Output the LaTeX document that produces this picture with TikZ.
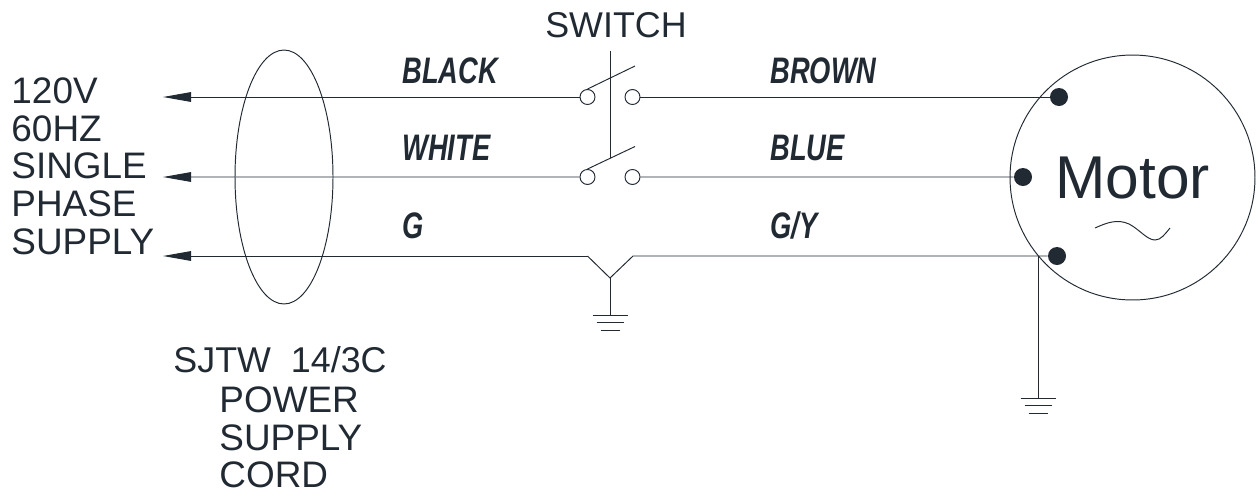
\documentclass[tikz,border=0pt]{standalone}
\usepackage{fontspec}
\setmainfont{Liberation Sans}
\newfontfamily\wirefont[FakeStretch=0.74]{Liberation Sans}
\usetikzlibrary{positioning,arrows.meta,shapes.geometric}
\definecolor{ink}{HTML}{212A33}

\begin{document}
\begin{tikzpicture}[x=0.02cm,y=-0.02cm]
\useasboundingbox (0,0) rectangle (1258,495);
% Draw Wiring Diagram
   \begin{scope}[ node distance=1.6cm,on grid,color=ink,line width=0.55pt,
                   term/.style={circle,draw,fill=white,minimum size=0.3cm,inner sep=0pt},
                   stud/.style={circle,fill=ink,minimum size=0.36cm,inner sep=0pt},
                   supply/.style={-{Triangle[length=16pt,width=5.5pt]}},
                   txt/.style={text=ink,inner sep=0pt,align=left,font=\fontsize{21}{21.5}\selectfont},
                   wire/.style={text=ink,inner sep=0pt,anchor=base west,font=\wirefont\bfseries\itshape\fontsize{21}{21}\selectfont} ]
     % switch contacts
     \node [term]  (a1)   at (587.5,97)        {};
     \node [term]  (a2)   [right=0.9cm of a1]  {};
     \node [term]  (b1)   [below=of a1]        {};
     \node [term]  (b2)   [right=0.9cm of b1]  {};
     \coordinate   (bladea)  at (635,66);
     \coordinate   (bladeb)  at (635,146.5);
     \coordinate   (linktop) at (610,51);
     \coordinate   (linkend) at (610,158);
     \draw (a1.north) -- (bladea);
     \draw (b1.north) -- (bladeb);
     \draw (linktop) -- (linkend);
     % motor
     \node [circle,draw,minimum size=4.9cm,inner sep=0pt,text=ink,font=\fontsize{34.4}{34.4}\selectfont]
           (motor) at (1132.5,177.5) {Motor};
     \node [stud]  (m1)   at (1059,97)         {};
     \node [stud]  (m2)   at (1023,177)        {};
     \node [stud]  (m3)   at (1057,256)        {};
     \draw (1095,228) .. controls (1108,222) and (1118,219) .. (1129,224)
           .. controls (1139,229) and (1147,240) .. (1155,240)
           .. controls (1161,240) and (1165,234) .. (1170,228);
     % supply side
     \coordinate   (s1)   at (163,97);
     \coordinate   (s2)   at (163,177);
     \coordinate   (s3)   at (163,256);
     \draw [supply] (a1) -- (s1);
     \draw [supply] (b1) -- (s2);
     \draw (a2) -- (m1);
     \draw (b2) -- (m2);
     \node [ellipse,draw,minimum width=1.96cm,minimum height=5.08cm,inner sep=0pt]
           (cord) at (284,177) {};
     % ground
     \coordinate   (g1)   at (587.5,256);
     \coordinate   (g2)   at (633,256);
     \coordinate   (gv)   at (610,278);
     \coordinate   (e1)   at (610,315);
     \coordinate   (j1)   at (1038,256);
     \coordinate   (e2)   at (1038,398);
     \draw [supply] (g1) -- (s3);
     \draw (g1) -- (gv) -- (g2) -- (m3);
     \draw (gv) -- (e1);
     \draw (j1) -- (e2);
     \draw ([xshift=-0.35cm]e1) -- ([xshift=0.35cm]e1);
     \draw ([xshift=-0.27cm,yshift=-0.155cm]e1) -- ([xshift=0.27cm,yshift=-0.155cm]e1);
     \draw ([xshift=-0.19cm,yshift=-0.31cm]e1) -- ([xshift=0.19cm,yshift=-0.31cm]e1);
     \draw ([xshift=-0.35cm]e2) -- ([xshift=0.35cm]e2);
     \draw ([xshift=-0.27cm,yshift=-0.155cm]e2) -- ([xshift=0.27cm,yshift=-0.155cm]e2);
     \draw ([xshift=-0.19cm,yshift=-0.31cm]e2) -- ([xshift=0.19cm,yshift=-0.31cm]e2);
     % labels
     \node [txt,font=\fontsize{20.4}{21}\selectfont]  (sw)  at (616,25)  {SWITCH};
     \node [txt,anchor=north west] (volt) at (11,77) {120V\\60HZ\\SINGLE\\PHASE\\SUPPLY};
     \node [txt,font=\fontsize{20.4}{21}\selectfont,anchor=base west] (cordname) at (173,372.5) {SJTW\ \ 14/3C};
     \node [txt,anchor=north west] (cordtype) at (219,386) {POWER\\SUPPLY\\CORD};
     \node [wire] (lblack) at (402,83)  {BLACK};
     \node [wire] (lwhite) at (402,160.5) {WHITE};
     \node [wire] (lg)     at (402,238) {G};
     \node [wire] (lbrown) at (770,83)  {BROWN};
     \node [wire] (lblue)  at (770,160.5) {BLUE};
     \node [wire] (lgy)    at (770,238) {G/Y};
   \end{scope}
\end{tikzpicture}
\end{document}
